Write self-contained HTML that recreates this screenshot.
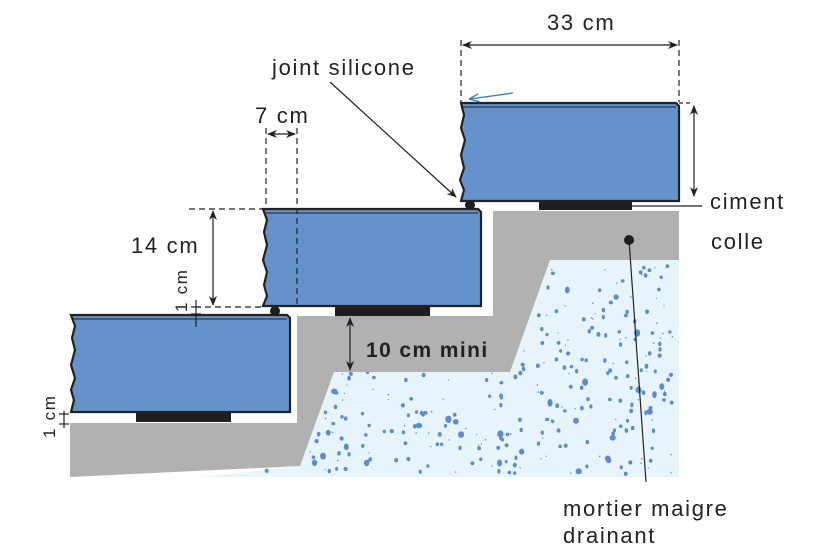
<!DOCTYPE html>
<html><head><meta charset="utf-8"><style>
html,body{margin:0;padding:0;background:#fff;}
svg{display:block;}
text{font-family:"Liberation Sans",sans-serif;fill:#222;letter-spacing:1.7px;}
</style></head><body>
<svg id="s" width="824" height="558" viewBox="0 0 824 558" xmlns="http://www.w3.org/2000/svg">
<defs>
<marker id="a" markerWidth="10" markerHeight="10" refX="9" refY="5" orient="auto-start-reverse" markerUnits="userSpaceOnUse"><path d="M0,1 L10,5 L0,9 L3,5 Z" fill="#222"/></marker>
<marker id="b" markerWidth="10" markerHeight="10" refX="9" refY="5" orient="auto" markerUnits="userSpaceOnUse"><path d="M0,1 L10,5 L0,9" fill="none" stroke="#3a7cc4" stroke-width="1.3"/></marker>
</defs>
<polygon points="334,372 510,372 550,260 679,260 679,477 200,477 300,466" fill="#e8f4fc"/>
<g id="dots" fill="#5b8ccc"></g>
<polygon points="70,423 297,423 297,316 493,316 493,211 679,211 679,260 550,260 510,372 334,372 300,466 70,477" fill="#b1b1b1"/>
<rect x="539" y="201" width="93" height="9" fill="#1e1e1e"/>
<rect x="335" y="307" width="95" height="9" fill="#1e1e1e"/>
<rect x="136" y="412" width="95" height="10" fill="#1e1e1e"/>
<path d="M461,103 L676,103 L679,106 L679,201 L461,201 L464,190 L460,180 L464,168 L461,155 L465,140 L461,128 L464,115 Z" fill="#6592cb" stroke="#222" stroke-width="2.2"/>
<line x1="463" y1="107" x2="676" y2="107" stroke="#222" stroke-width="1"/>
<path d="M263,209 L478,209 L481,212 L481,306 L263,306 L267,296 L264,285 L267,272 L263,260 L267,245 L264,232 L267,220 Z" fill="#6592cb" stroke="#222" stroke-width="2.2"/>
<line x1="265" y1="213" x2="478" y2="213" stroke="#222" stroke-width="1"/>
<path d="M71,315 L287,315 L290,318 L290,412 L71,412 L74,400 L71,390 L75,378 L71,365 L75,350 L72,338 L75,326 Z" fill="#6592cb" stroke="#222" stroke-width="2.2"/>
<line x1="73" y1="319" x2="287" y2="319" stroke="#222" stroke-width="1"/>
<circle cx="470" cy="205" r="5" fill="#1e1e1e"/>
<circle cx="275" cy="311" r="5" fill="#1e1e1e"/>
<g stroke="#222" stroke-width="1.2" fill="none">
<line x1="461" y1="40" x2="461" y2="102" stroke-dasharray="6,4"/>
<line x1="679" y1="40" x2="679" y2="102" stroke-dasharray="6,4"/>
<line x1="679" y1="103" x2="690" y2="103" stroke-dasharray="4,3"/>
<line x1="463" y1="45" x2="677" y2="45" marker-start="url(#a)" marker-end="url(#a)"/>
<line x1="694" y1="106" x2="694" y2="196" marker-start="url(#a)" marker-end="url(#a)"/>
<line x1="632" y1="206" x2="702" y2="206"/>
<line x1="629" y1="240" x2="646" y2="482"/>
<line x1="330" y1="82" x2="456" y2="197" marker-end="url(#a)"/>
<line x1="266" y1="128" x2="266" y2="208" stroke-dasharray="6,4"/>
<line x1="297" y1="128" x2="297" y2="306" stroke-dasharray="6,4"/>
<line x1="268" y1="134" x2="295" y2="134" marker-start="url(#a)" marker-end="url(#a)"/>
<line x1="189" y1="209" x2="262" y2="209" stroke-dasharray="6,4"/>
<line x1="195" y1="307" x2="262" y2="307" stroke-dasharray="6,4"/>
<line x1="213" y1="211" x2="213" y2="305" marker-start="url(#a)" marker-end="url(#a)"/>
<line x1="196" y1="300" x2="196" y2="327"/>
<line x1="191" y1="307" x2="201" y2="307"/>
<line x1="191" y1="314" x2="201" y2="314"/>
<line x1="64" y1="411" x2="64" y2="428"/>
<line x1="59" y1="414" x2="69" y2="414"/>
<line x1="59" y1="424" x2="69" y2="424"/>
<line x1="350" y1="318" x2="350" y2="370" marker-start="url(#a)" marker-end="url(#a)"/>
</g>
<line x1="513" y1="93" x2="470" y2="99" stroke="#3a7cc4" stroke-width="1.3" marker-end="url(#b)"/>
<circle cx="629" cy="240" r="5" fill="#1e1e1e"/>
<text x="547" y="30" font-size="22">33 cm</text>
<text x="272" y="75" font-size="22">joint silicone</text>
<text x="255" y="123" font-size="22">7 cm</text>
<text x="131" y="253" font-size="22">14 cm</text>
<text x="710" y="209" font-size="22">ciment</text>
<text x="711" y="249" font-size="22">colle</text>
<text x="366" y="357" font-size="21" font-weight="bold" style="letter-spacing:1.4px">10 cm mini</text>
<text x="563" y="516" font-size="22">mortier maigre</text>
<text x="563" y="543" font-size="22">drainant</text>
<text transform="translate(187,312) rotate(-90)" font-size="17">1 cm</text>
<text transform="translate(55,438) rotate(-90)" font-size="17">1 cm</text>
</svg>
<script>
(function(){var g=document.getElementById('dots');var s=12345;function r(){s=(s*16807)%2147483647;return s/2147483647;}
function inside(x,y){if(y>474||x>675)return false;if(y<264)return false;
if(y<372){var xb=550-(y-260)*(40/112);return x>xb+4;}
var xl=334-(y-372)*(34/94);if(y>466)xl=300-(y-466)*10;return x>xl+4;}
var n=0,t=0;while(n<290&&t<20000){t++;var x=200+r()*480,y=260+r()*218;if(!inside(x,y))continue;n++;
var e=document.createElementNS('http://www.w3.org/2000/svg','ellipse');var k=r();var rr=k<0.3?0.7:(k<0.9?1.9:2.9);
e.setAttribute('cx',x.toFixed(1));e.setAttribute('cy',y.toFixed(1));e.setAttribute('rx',(rr*(0.8+r()*0.3)).toFixed(1));e.setAttribute('ry',(rr*(0.9+r()*0.4)).toFixed(1));g.appendChild(e);}})();
</script>
</body></html>
